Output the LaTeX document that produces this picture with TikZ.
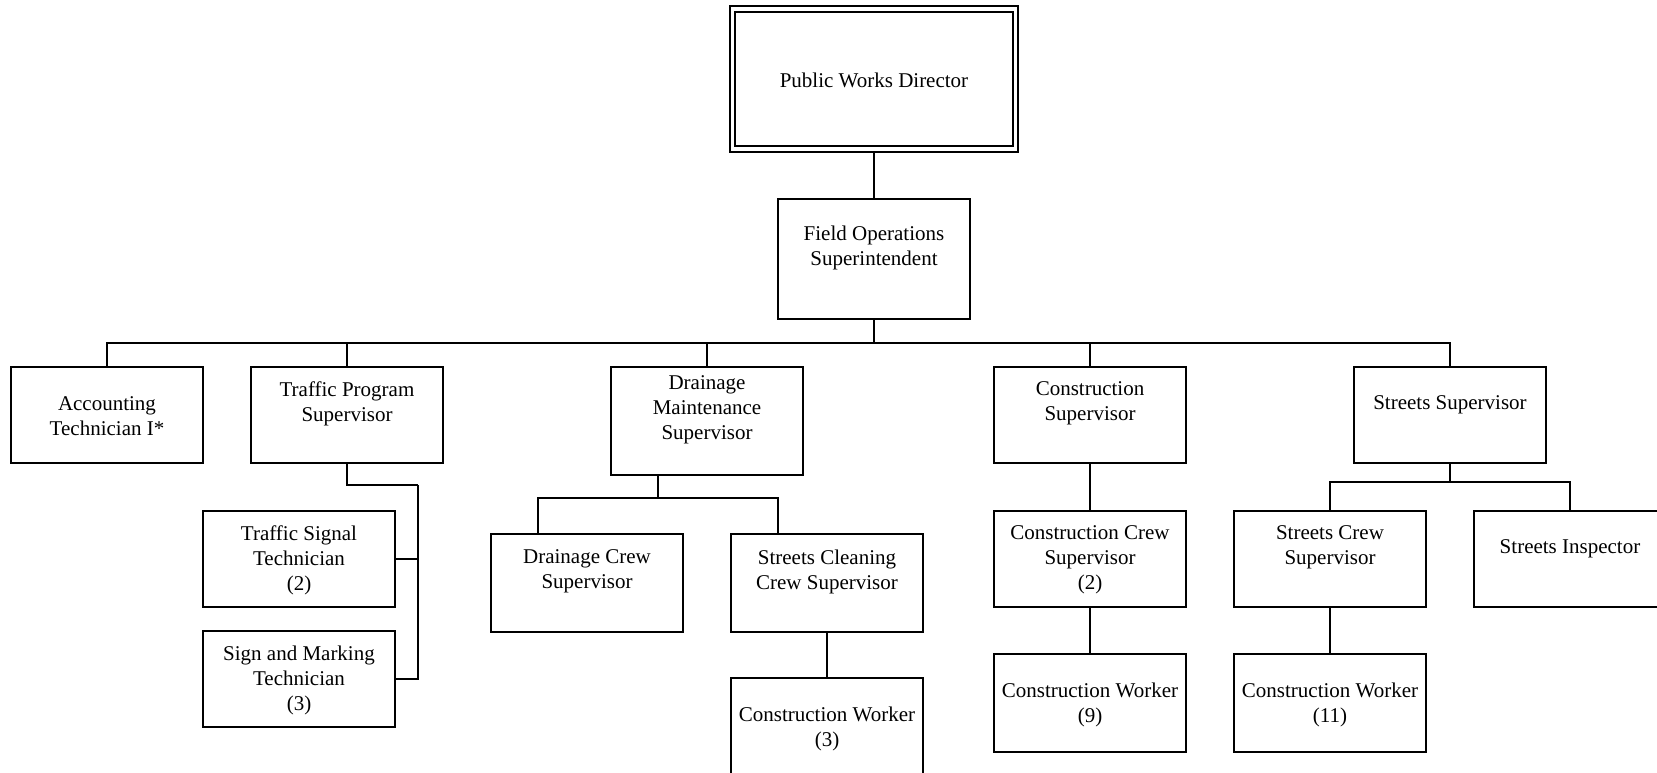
\documentclass[tikz,border=0pt]{standalone}
\usepackage{fontspec}
\setmainfont{Liberation Serif}
\begin{document}
\begin{tikzpicture}[x=1pt,y=-1pt,
  box/.style={draw,line width=2pt,rectangle,inner sep=0pt,minimum width=192pt,minimum height=96pt},
  txt/.style={align=center,inner sep=0pt,yshift=-2pt,font=\fontsize{21}{25}\selectfont},
  conn/.style={line width=2pt},
  thickconn/.style={line width=2.6pt}]
\useasboundingbox (0,0) rectangle (1657,773);
% Director (double frame)
\node[draw,line width=2pt,inner sep=0pt,minimum width=288pt,minimum height=146pt] (dir) at (874,79) {};
\node[draw,line width=2pt,inner sep=0pt,minimum width=278pt,minimum height=134pt] (dirin) at (874,79) {};
\node[txt] (dirt) at (874,78) {Public Works Director};
% Field operations
\node[box,minimum width=192pt,minimum height=120pt] (fos) at (874,259) {};
\node[txt] (fost) at (874,245.5) {Field Operations\\Superintendent};
% Level 2
\node[box] (acc) at (107,415) {};
\node[txt] (acct) at (107,414.5) {Accounting\\Technician I*};
\node[box] (tps) at (347,415) {};
\node[txt] (tpst) at (347,401.5) {Traffic Program\\Supervisor};
\node[box,minimum height=108pt] (dms) at (707,421) {};
\node[txt] (dmst) at (707,408) {Drainage\\Maintenance\\Supervisor};
\node[box] (cs) at (1090,415) {};
\node[txt] (cst) at (1090,401.5) {Construction\\Supervisor};
\node[box] (ss) at (1450,415) {};
\node[txt] (sst) at (1450,403) {Streets Supervisor};
% Level 3
\node[box] (tst) at (299,559) {};
\node[txt] (tstt) at (299,558.5) {Traffic Signal\\Technician\\(2)};
\node[box] (smt) at (299,679) {};
\node[txt] (smtt) at (299,678) {Sign and Marking\\Technician\\(3)};
\node[box,minimum height=98pt] (dcs) at (587,583) {};
\node[txt] (dcst) at (587,569.5) {Drainage Crew\\Supervisor};
\node[box,minimum height=98pt] (scs) at (827,583) {};
\node[txt] (scst) at (827,569.5) {Streets Cleaning\\Crew Supervisor};
\node[box,minimum height=98pt] (cw3) at (827,727) {};
\node[txt] (cw3t) at (827,726.5) {Construction Worker\\(3)};
\node[box] (ccs) at (1090,559) {};
\node[txt] (ccst) at (1090,558) {Construction Crew\\Supervisor\\(2)};
\node[box,minimum height=98pt] (cw9) at (1090,703) {};
\node[txt] (cw9t) at (1090,703) {Construction Worker\\(9)};
\node[box] (stc) at (1330,559) {};
\node[txt] (stct) at (1330,545) {Streets Crew\\Supervisor};
\node[box] (si) at (1570,559) {};
\node[txt] (sit) at (1570,547) {Streets Inspector};
\node[box,minimum height=98pt] (cw11) at (1330,703) {};
\node[txt] (cw11t) at (1330,703) {Construction Worker\\(11)};
% junction coordinates
\coordinate (bus) at (874,343);
\coordinate (tpsj) at (418,485);
\coordinate (tpsb) at (418,679);
\coordinate (dmsj) at (658,498);
\coordinate (dmsl) at (538,498);
\coordinate (dmsr) at (778,498);
\coordinate (ssj) at (1450,482);
% connectors
\draw[conn] (dir.south) -- (fos.north);
\draw[thickconn] (fos.south) -- (bus);
\draw[conn] (bus) -| (acc.north);
\draw[conn] (bus) -| (tps.north);
\draw[conn] (bus) -| (dms.north);
\draw[conn] (bus) -| (cs.north);
\draw[conn] (bus) -| (ss.north);
\draw[conn] (tps.south) |- (tpsj);
\draw[conn] (tpsj) -- (tpsb) -- (smt.east);
\draw[conn] (tst.east) -- (tst.east -| tpsj);
\draw[thickconn] (dmsj |- dms.south) -- (dmsj);
\draw[conn] (dmsl |- dcs.north) -- (dmsl) -- (dmsr) -- (dmsr |- scs.north);
\draw[conn] (scs.south) -- (cw3.north);
\draw[conn] (cs.south) -- (ccs.north);
\draw[conn] (ccs.south) -- (cw9.north);
\draw[conn] (ss.south) -- (ssj);
\draw[conn] (stc.north) |- (ssj) -| (si.north);
\draw[conn] (stc.south) -- (cw11.north);
\end{tikzpicture}
\end{document}
